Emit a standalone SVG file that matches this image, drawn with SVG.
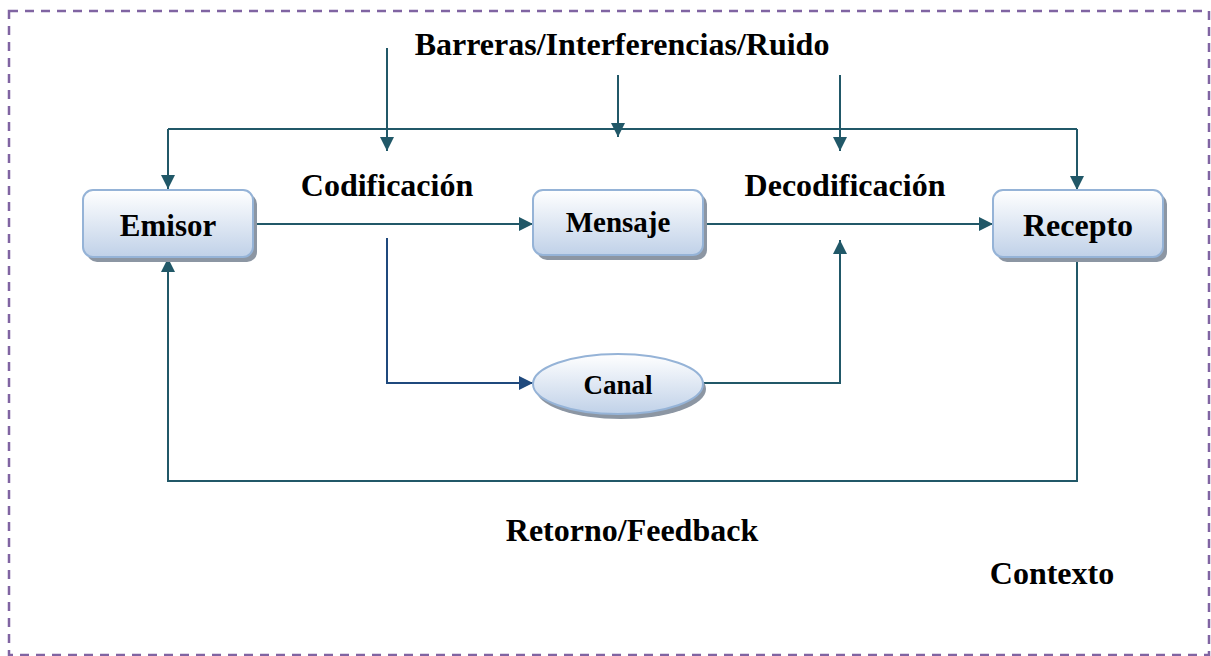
<svg xmlns="http://www.w3.org/2000/svg" width="1211" height="656" viewBox="0 0 1211 656">
<defs>
<linearGradient id="g" x1="0" y1="0" x2="0" y2="1">
<stop offset="0" stop-color="#ffffff"/>
<stop offset="1" stop-color="#c0d1e8"/>
</linearGradient>
<marker id="ah" viewBox="0 0 10 10" refX="10" refY="5" markerWidth="15" markerHeight="14" markerUnits="userSpaceOnUse" orient="auto">
<path d="M0,0 L10,5 L0,10 z" fill="#215868"/>
</marker>
<marker id="ab" viewBox="0 0 10 10" refX="10" refY="5" markerWidth="15" markerHeight="14" markerUnits="userSpaceOnUse" orient="auto">
<path d="M0,0 L10,5 L0,10 z" fill="#1f497d"/>
</marker>
<style>
.t{font-family:"Liberation Serif","Times New Roman",serif;font-weight:bold;fill:#000}
.box{fill:url(#g);stroke:#95b3d7;stroke-width:2}
.sh{fill:#8c96a3}
.c{fill:none;stroke:#215868;stroke-width:2;marker-end:url(#ah)}
.cn{fill:none;stroke:#215868;stroke-width:2}
</style>
</defs>
<rect x="9" y="11" width="1200" height="644" fill="none" stroke="#8064a2" stroke-width="2.5" stroke-dasharray="9,7"/>
<g id="connectors">
<path class="cn" d="M168,129 H1077"/>
<path class="c" d="M168,129 V189"/>
<path class="c" d="M1077,129 V190"/>
<path class="c" d="M387,48 V151"/>
<path class="c" d="M618,75 V137"/>
<path class="c" d="M840,75 V151"/>
<path class="c" d="M253,224 H533"/>
<path class="c" d="M703,224 H993"/>
<path d="M387,238 V383 H533" fill="none" stroke="#1f497d" stroke-width="2" marker-end="url(#ab)"/>
<path class="c" d="M704,383 H840 V240"/>
<path class="c" d="M1077,258 V481 H168 V258"/>
</g>
<g id="emisor">
<rect class="sh" x="87" y="194" width="170" height="68" rx="10"/>
<rect class="box" x="83" y="190" width="170" height="67" rx="10"/>
<text class="t" x="168" y="236" font-size="31" text-anchor="middle">Emisor</text>
</g>
<g id="mensaje">
<rect class="sh" x="537" y="194" width="170" height="66" rx="10"/>
<rect class="box" x="533" y="190" width="170" height="65" rx="10"/>
<text class="t" x="618" y="232" font-size="29" text-anchor="middle">Mensaje</text>
</g>
<g id="recepto">
<rect class="sh" x="997" y="194" width="170" height="68" rx="10"/>
<rect class="box" x="993" y="190" width="170" height="67" rx="10"/>
<text class="t" x="1078" y="236" font-size="32" text-anchor="middle">Recepto</text>
</g>
<g id="canal">
<ellipse class="sh" cx="621" cy="389" rx="85" ry="30"/>
<ellipse class="box" cx="618" cy="384" rx="85" ry="30"/>
<text class="t" x="618" y="394" font-size="27" text-anchor="middle">Canal</text>
</g>
<g id="labels">
<text class="t" x="622" y="55" font-size="32" text-anchor="middle">Barreras/Interferencias/Ruido</text>
<text class="t" x="387" y="196" font-size="32" text-anchor="middle">Codificación</text>
<text class="t" x="845" y="196" font-size="32" text-anchor="middle">Decodificación</text>
<text class="t" x="632" y="541" font-size="32" text-anchor="middle">Retorno/Feedback</text>
<text class="t" x="1052" y="584" font-size="32" text-anchor="middle">Contexto</text>
</g>
</svg>
